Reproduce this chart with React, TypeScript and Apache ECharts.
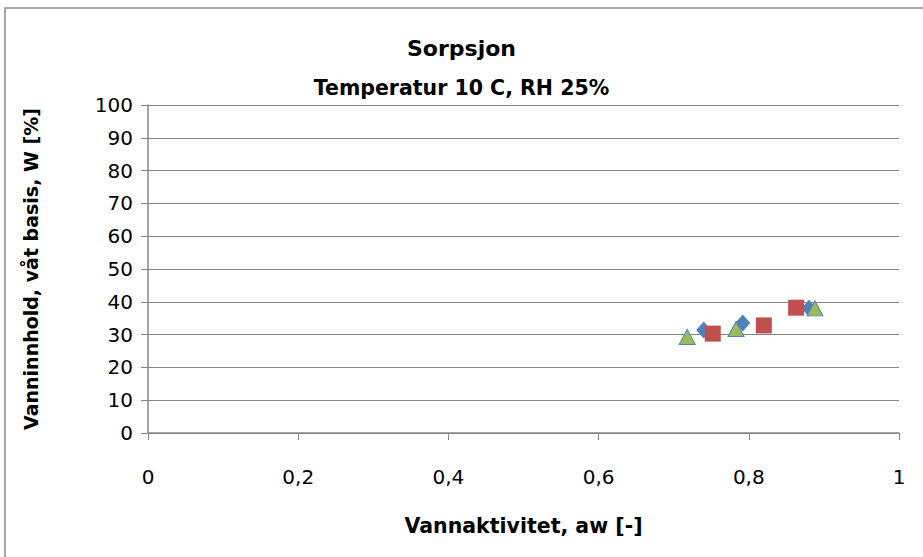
import React, { useEffect, useRef } from "react";
import * as echarts from "echarts";

const titleText = "Sorpsjon";
const subtitleText = "Temperatur 10 C, RH 25%";
const xAxisName = "Vannaktivitet, aw [-]";
const yAxisName = "Vanninnhold, våt basis, W [%]";

const series1X = [0.74, 0.792, 0.88];
const series1Y = [31.4, 33.5, 38.0];
const series2X = [0.752, 0.82, 0.863];
const series2Y = [30.3, 32.8, 38.2];
const series3X = [0.718, 0.783, 0.888];
const series3Y = [29.3, 31.7, 38.0];

const FONT = "'DejaVu Sans', 'Liberation Sans', sans-serif";

function pts(xs: number[], ys: number[]) {
  return xs.map((x, i) => [x, ys[i]]);
}

export default function App() {
  const ref = useRef<HTMLDivElement>(null);
  useEffect(() => {
    if (!ref.current) return;
    const chart = echarts.init(ref.current, null, { renderer: "svg" });
    chart.setOption({
      animation: false,
      backgroundColor: "#ffffff",
      title: [
        {
          text: titleText,
          left: "center",
          top: 32,
          textStyle: { fontFamily: FONT, fontSize: 22, fontWeight: "bold", color: "#000" },
        },
        {
          text: subtitleText,
          left: "center",
          top: 72,
          textStyle: { fontFamily: FONT, fontSize: 20.5, fontWeight: "bold", color: "#000" },
        },
      ],
      graphic: [
        {
          type: "rect",
          shape: { x: 5, y: 8, width: 940, height: 570 },
          style: { fill: "none", stroke: "#8c8c8c", lineWidth: 1.5 },
          silent: true,
        },
      ],
      grid: { left: 148, right: 24, top: 105, bottom: 124 },
      xAxis: {
        type: "value",
        min: 0,
        max: 1,
        interval: 0.2,
        name: xAxisName,
        nameLocation: "middle",
        nameGap: 82,
        nameTextStyle: { fontFamily: FONT, fontSize: 20.5, fontWeight: "bold", color: "#000" },
        axisLine: { show: true, onZero: false, lineStyle: { color: "#868686", width: 1.5 } },
        axisTick: { show: true, inside: false, length: 7, lineStyle: { color: "#868686" } },
        axisLabel: {
          margin: 34,
          fontFamily: FONT,
          fontSize: 20,
          color: "#000",
          formatter: (v: number) => String(Math.round(v * 10) / 10).replace(".", ","),
        },
        splitLine: { show: false },
      },
      yAxis: {
        type: "value",
        min: 0,
        max: 100,
        interval: 10,
        name: yAxisName,
        nameLocation: "middle",
        nameGap: 108,
        nameRotate: 90,
        nameTextStyle: { fontFamily: FONT, fontSize: 19, fontWeight: "bold", color: "#000" },
        axisLine: { show: true, lineStyle: { color: "#868686", width: 1.5 } },
        axisTick: { show: true, inside: false, length: 7, lineStyle: { color: "#868686" } },
        axisLabel: { margin: 15, fontFamily: FONT, fontSize: 20, color: "#000" },
        splitLine: { show: true, lineStyle: { color: "#868686", width: 1.2 } },
      },
      series: [
        {
          type: "scatter",
          data: pts(series1X, series1Y),
          symbol: "diamond",
          symbolSize: [15, 17],
          itemStyle: { color: "#4F81BD", opacity: 1 },
          z: 2,
        },
        {
          type: "scatter",
          data: pts(series2X, series2Y),
          symbol: "rect",
          symbolSize: 16,
          itemStyle: { color: "#C0504D", opacity: 1 },
          z: 3,
        },
        {
          type: "scatter",
          data: pts(series3X, series3Y),
          symbol: "triangle",
          symbolSize: [16, 15],
          itemStyle: { color: "#9BBB59", borderColor: "#4F81BD", borderWidth: 1, opacity: 1 },
          z: 4,
        },
      ],
    });
    return () => chart.dispose();
  }, []);
  return (
    <div
      ref={ref}
      style={{ position: "absolute", left: 0, top: 0, width: 923, height: 557 }}
    />
  );
}
